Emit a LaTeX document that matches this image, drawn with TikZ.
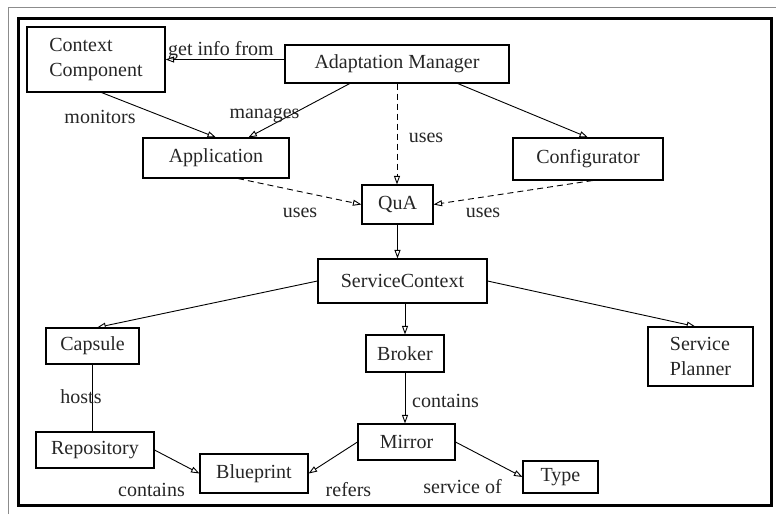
\documentclass[tikz,border=0pt]{standalone}
\usepackage{fontspec}
\setmainfont{Liberation Serif}
\usetikzlibrary{arrows.meta,calc}
\begin{document}
\begin{tikzpicture}[x=1pt,y=-1pt,
  box/.style={draw, line width=1.1pt, inner sep=0pt, font=\fontsize{20}{25}\selectfont, text=black!85},
  lbl/.style={inner sep=0pt, anchor=base, font=\fontsize{20}{25}\selectfont, text=black!85},
  rel/.style={line width=0.9pt, -{Triangle[open,length=8.5pt,width=6pt]}},
  use/.style={rel, dash pattern=on 6pt off 4pt},
  plain/.style={line width=0.9pt},
]
\useasboundingbox (0,0) rectangle (776,514);

% page frame
\draw[gray!90, line width=1.6pt] (8.3,514) -- (8.3,7.3) -- (776,7.3);
\draw[line width=2.6pt] (18.7,18.7) rectangle (771.3,505.3);

% components
\node[box, minimum width=138pt, minimum height=65pt, align=left] (ctx) at (96,59.5) {Context\\Component};
\node[box, minimum width=224pt, minimum height=38pt] (am) at (397,64) {Adaptation Manager};
\node[box, minimum width=146pt, minimum height=40pt] (app) at (216,158) {Application};
\node[box, minimum width=150pt, minimum height=42pt] (conf) at (588,159) {Configurator};
\node[box, minimum width=71pt, minimum height=39pt] (qua) at (397.5,204.5) {QuA};
\node[box, minimum width=169pt, minimum height=44pt] (sc) at (402.5,281) {ServiceContext};
\node[box, minimum width=93pt, minimum height=36pt] (caps) at (92.5,346) {Capsule};
\node[box, minimum width=78pt, minimum height=37pt] (brk) at (405,353.5) {Broker};
\node[box, minimum width=105pt, minimum height=59pt, align=left] (sp) at (700.5,356.5) {Service\\Planner};
\node[box, minimum width=118pt, minimum height=36pt] (repo) at (95,450) {Repository};
\node[box, minimum width=108pt, minimum height=39pt] (bp) at (254,473.5) {Blueprint};
\node[box, minimum width=97pt, minimum height=36pt] (mir) at (406.5,442) {Mirror};
\node[box, minimum width=75pt, minimum height=32pt] (type) at (560.5,477) {Type};

% relations
\draw[rel] (am.west |- ctx.east) -- (ctx.east);
\draw[rel] ($(ctx.south west)!0.54!(ctx.south east)$) -- (app.north);
\draw[rel] ($(am.south west)!0.29!(am.south east)$) -- ($(app.north west)!0.72!(app.north east)$);
\draw[use] (am.south) -- (am.south |- qua.north);
\draw[rel] ($(am.south west)!0.77!(am.south east)$) -- (conf.north);
\draw[use] ($(app.south west)!0.65!(app.south east)$) -- (qua.west);
\draw[use] ($(conf.south west)!0.53!(conf.south east)$) -- (qua.east);
\draw[rel] (qua.south) -- (qua.south |- sc.north);
\draw[rel] (sc.west) -- ($(caps.north west)!0.55!(caps.north east)$);
\draw[rel] (brk.north |- sc.south) -- (brk.north);
\draw[rel] (sc.east) -- ($(sp.north west)!0.45!(sp.north east)$);
\draw[plain] (caps.south) -- (caps.south |- repo.north);
\draw[rel] (brk.south) -- (brk.south |- mir.north);
\draw[rel] (repo.east) -- (bp.west);
\draw[rel] (mir.west) -- (bp.east);
\draw[rel] (mir.east) -- (type.west);

% relation labels
\node[lbl] (lget) at (221,55) {get info from};
\node[lbl] (lmon) at (100,123) {monitors};
\node[lbl] (lman) at (264.5,118) {manages};
\node[lbl] (luse1) at (426,142) {uses};
\node[lbl] (luse2) at (300,217) {uses};
\node[lbl] (luse3) at (483,217) {uses};
\node[lbl] (lhost) at (81,403) {hosts};
\node[lbl] (lcon1) at (445.5,407) {contains};
\node[lbl] (lcon2) at (151.5,496) {contains};
\node[lbl] (lref) at (348.5,496) {refers};
\node[lbl] (lsvc) at (462.5,493) {service of};
\end{tikzpicture}
\end{document}
